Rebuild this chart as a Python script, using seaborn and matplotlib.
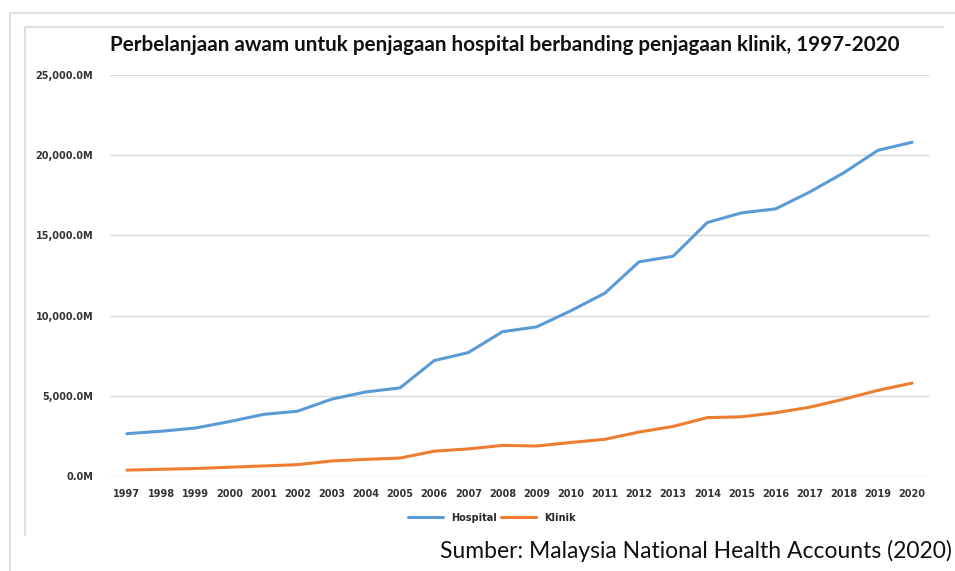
import pandas as pd
import matplotlib.pyplot as plt
import seaborn as sns
from matplotlib.lines import Line2D
from matplotlib.ticker import FuncFormatter

# Data (juta RM), dibaca dari carta
years = list(range(1997, 2021))
hospital = [2650, 2800, 3000, 3400, 3850, 4050, 4800, 5250, 5500, 7200, 7700, 9000,
            9300, 10300, 11400, 13350, 13700, 15800, 16400, 16650, 17700, 18900, 20300, 20800]
klinik = [380, 430, 480, 560, 640, 720, 950, 1050, 1130, 1560, 1700, 1920,
          1880, 2100, 2300, 2750, 3100, 3650, 3700, 3950, 4300, 4800, 5350, 5800]
series_names = ['Hospital', 'Klinik']
colors = ['#5B9BD5', '#ED7D31']

df = pd.DataFrame({'Tahun': years * 2,
                   'Nilai': hospital + klinik,
                   'Jenis': [series_names[0]] * len(years) + [series_names[1]] * len(years)})

sns.set_style('white')
plt.rcParams['font.family'] = ['Lato', 'DejaVu Sans']

fig = plt.figure(figsize=(9.55, 5.71), dpi=100)
ax = fig.add_axes([0.115, 0.166, 0.858, 0.703])

sns.lineplot(data=df, x='Tahun', y='Nilai', hue='Jenis', palette=colors,
             linewidth=2.2, ax=ax, legend=False)

ax.set_xlim(1996.5, 2020.5)
ax.set_ylim(0, 25000)
ax.set_yticks(range(0, 25001, 5000))
ax.set_xticks(years)
ax.yaxis.set_major_formatter(FuncFormatter(lambda v, p: f'{v:,.1f}M'))
ax.grid(axis='y', color='#D9D9D9', linewidth=1.0)
ax.set_axisbelow(True)
for s in ax.spines.values():
    s.set_visible(False)
ax.tick_params(axis='both', length=0, labelcolor='#333333')
ax.tick_params(axis='y', pad=12)
ax.tick_params(axis='x', pad=9)
for lbl in ax.get_xticklabels() + ax.get_yticklabels():
    lbl.set_fontweight('bold')
    lbl.set_family('DejaVu Sans')
    lbl.set_fontsize(7)
ax.set_xlabel('')
ax.set_ylabel('')

fig.text(0.529, 0.922, 'Perbelanjaan awam untuk penjagaan hospital berbanding penjagaan klinik, 1997-2020',
         ha='center', va='center', fontsize=14.9, fontweight='bold', color='#111111')

handles = [Line2D([], [], color=c, linewidth=2.2) for c in colors]
fig.legend(handles, series_names, loc='center', bbox_to_anchor=(0.515, 0.093), ncol=2,
           frameon=False, handlelength=3.6, columnspacing=0.5,
           prop={'weight': 'bold', 'size': 7, 'family': 'DejaVu Sans'})

fig.text(0.997, 0.035, 'Sumber: Malaysia National Health Accounts (2020)',
         ha='right', va='center', fontsize=16.5, color='#111111')

# bingkai kelabu
border = '#E0E0E0'
fig.add_artist(Line2D([10 / 955, 1], [1 - 13 / 571, 1 - 13 / 571], color=border, linewidth=1.5))
fig.add_artist(Line2D([10 / 955, 10 / 955], [0, 1 - 13 / 571], color=border, linewidth=1.5))
fig.add_artist(Line2D([25 / 955, 943 / 955], [1 - 27 / 571, 1 - 27 / 571], color=border, linewidth=1.5))
fig.add_artist(Line2D([25 / 955, 25 / 955], [1 - 535 / 571, 1 - 27 / 571], color=border, linewidth=1.5))

fig.savefig('out.png', dpi=100)
